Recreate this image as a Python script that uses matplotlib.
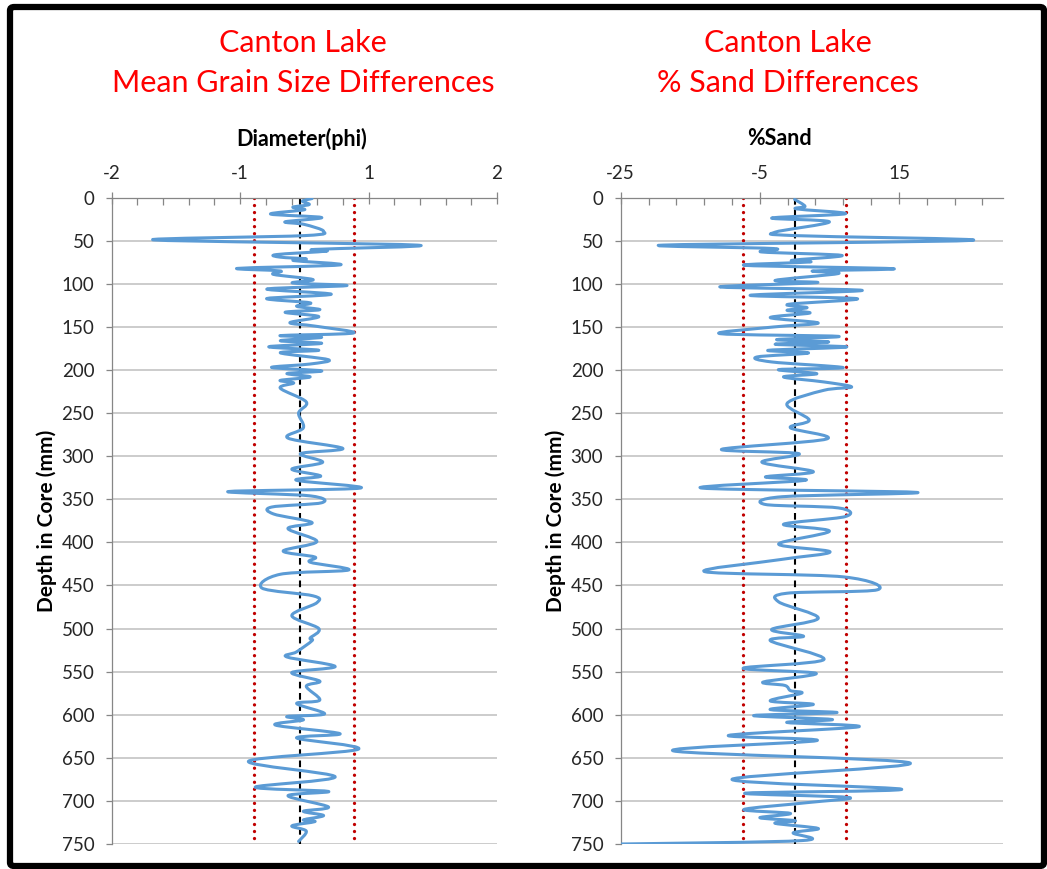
import numpy as np
import matplotlib
matplotlib.use("Agg")
import matplotlib.pyplot as plt
from matplotlib.path import Path
from matplotlib.patches import PathPatch, FancyBboxPatch
from matplotlib.ticker import FixedLocator, FixedFormatter

plt.rcParams['font.family'] = ['Lato', 'DejaVu Sans']

# ---------------- data ----------------
grain_depth = [1, 4, 8, 11, 14, 19, 23, 28, 31, 39, 44, 49, 55, 60, 62, 66, 69, 71, 73, 78,
               82, 85, 89, 95, 99, 102, 106, 112, 117, 122, 126, 130, 133, 138, 145, 149, 157, 160,
               162, 166, 169, 173, 177, 180, 188, 193, 197, 201, 204, 208, 212, 215, 221, 237,
               250, 267, 279, 291, 297, 307, 315, 323, 328, 337, 341, 346, 354, 359, 367, 377,
               384, 399, 410, 417, 423, 432, 437, 453, 462, 470, 485, 500, 511, 514, 527, 533,
               544, 551, 561, 567, 583, 587, 599, 602, 606, 612, 622, 627, 640, 654, 672, 684,
               689, 694, 707, 712, 717, 722, 724, 729, 735, 747]
grain_diff = [0.08, -0.02, 0.05, -0.12, 0.0, -0.35, 0.18, -0.2, 0.0, 0.2, 0.0, -1.56, 1.17, 0.11,
              0.23, -0.29, -0.25, 0.02, -0.11, 0.37, -0.69, -0.25, -0.32, 0.09, -0.12, 0.44,
              -0.39, 0.28, -0.39, 0.06, -0.08, 0.16, -0.2, 0.15, -0.15, 0.11, 0.51, -0.25, 0.18,
              -0.25, 0.18, -0.37, 0.15, -0.25, 0.25, 0.06, -0.34, 0.18, -0.18, 0.06, -0.25,
              -0.11, -0.25, 0.02, -0.06, -0.01, -0.17, 0.40, -0.04, 0.19, -0.13, 0.17, -0.08,
              0.58, -0.79, 0.06, 0.18, -0.34, -0.32, 0.08, -0.17, 0.13, -0.22, 0.11, 0.06, 0.46,
              -0.25, -0.44, 0.09, 0.13, -0.13, 0.15, 0.06, 0.08, -0.08, -0.18, 0.32, -0.13,
              0.16, 0.02, 0.16, -0.08, 0.21, -0.18, -0.01, -0.30, 0.37, -0.08, 0.56, -0.58,
              0.32, -0.51, 0.25, -0.17, 0.25, -0.01, 0.20, -0.01, 0.11, -0.13, 0.02, -0.06]
grain_limits = [-0.52, 0.52]
grain_center = -0.05

sand_depth = [2, 10, 13, 18.6, 23.6, 28, 40, 44, 49.5, 55, 59, 63, 67, 72.7, 74.6, 78.5, 82.4,
              85, 88, 96, 98.6, 103.6, 107.5, 113.3, 117.2, 123.7, 127.6, 130.7, 133.8, 139.2,
              145.4, 150, 157.8, 160.9, 164.7, 167.4, 170.1, 173.2, 177.1, 180.2, 184.8, 190.6,
              197.2, 199.5, 204.2, 208, 213.8, 219.6, 223.5, 239, 258, 267, 280, 292, 297, 307,
              318, 324, 328, 337, 342, 347, 356, 360, 370, 379, 387, 402, 411, 420, 434, 440,
              455, 459, 469, 488, 501, 509, 514, 536, 546, 552, 562, 566, 572, 575, 584, 588,
              594, 597.5, 601, 605.5, 609, 614, 624, 630, 642, 656, 675, 686.5, 691, 696, 702,
              710, 714.5, 719.5, 723, 726, 732, 737, 746, 750]
sand_diff = [0.0, 1.5, 0.3, 7.3, -3.3, 5.0, -2.8, 0.1, 25.5, -18.9, -3.0, -4.7, 6.8, -0.4, 2.2,
             -7.1, 14.2, 2.7, 6.3, -2.8, 3.2, -10.7, 9.7, -6.4, 9.0, -0.9, 1.8, -1.1, 2.2, -3.5,
             3.4, -3.0, -10.7, 6.3, -2.6, 4.9, -2.8, 7.5, -3.8, 2.0, -5.4, -3.3, 7.0, -2.3, 3.2,
             -1.6, 4.2, 8.2, 4.2, -1.1, 2.1, -0.6, 4.6, -10.5, 0.6, -4.7, 2.7, -4.2, 1.5, -13.3,
             17.6, -1.8, -4.2, 6.3, 7.3, -1.6, 5.0, -2.3, 5.1, -2.1, -12.9, 7.0, 11.9, -1.1,
             -2.3, 3.4, -3.3, 1.3, -3.5, 4.2, -7.4, 3.1, -4.5, -1.4, -0.6, 1.0, -3.5, 2.7, -3.5,
             6.1, -5.9, 5.4, -1.1, 9.2, -9.5, 3.2, -17.4, 16.6, -9.0, 15.4, -7.1, 7.8, 1.8, -7.3,
             -0.6, -5.0, 0.1, -2.8, 3.4, -0.2, 1.1, -25.0]
sand_limits = [-7.35, 7.35]
sand_center = 0.0

depth_ticks = list(range(0, 751, 50))
grain_major = [-2, -2 / 3, 2 / 3, 2]
grain_major_labels = ['-2', '-1', '1', '2']
sand_major = [-25, -5, 15]
sand_major_labels = ['-25', '-5', '15']

# ---------------- figure ----------------
W, H = 1047, 869
fig = plt.figure(figsize=(W / 100, H / 100), dpi=100)

BLUE = '#5B9BD5'
GRID = '#BFBFBF'
AXC = '#868686'
TXT = '#262626'


def smooth_path(x, y):
    pts = np.column_stack([x, y]).astype(float)
    n = len(pts)
    verts = [pts[0]]
    codes = [Path.MOVETO]
    for i in range(n - 1):
        p0 = pts[i - 1] if i > 0 else pts[i]
        p1 = pts[i]
        p2 = pts[i + 1]
        p3 = pts[i + 2] if i + 2 < n else pts[i + 1]
        c1 = p1 + (p2 - p0) / 6.0
        c2 = p2 - (p3 - p1) / 6.0
        verts += [c1, c2, p2]
        codes += [Path.CURVE4] * 3
    return Path(verts, codes)


def make_panel(rect, values, depths, xlim, major, major_labels, minor, limits, center,
               xlabel, xlabel_x):
    ax = fig.add_axes(rect)
    ax.set_xlim(*xlim)
    ax.set_ylim(750, 0)
    ax.xaxis.tick_top()
    ax.xaxis.set_major_locator(FixedLocator(major))
    ax.xaxis.set_major_formatter(FixedFormatter(major_labels))
    ax.xaxis.set_minor_locator(FixedLocator(minor))
    ax.set_yticks(depth_ticks)
    ax.yaxis.grid(True, color=GRID, lw=1.1)
    ax.set_axisbelow(True)
    for s in ['bottom', 'right']:
        ax.spines[s].set_visible(False)
    for s in ['top', 'left']:
        ax.spines[s].set_color(AXC)
        ax.spines[s].set_linewidth(0.9)
    ax.tick_params(axis='x', which='major', direction='inout', length=9, width=0.9,
                   color=AXC, labelsize=13.5, labelcolor=TXT, pad=7)
    ax.tick_params(axis='x', which='minor', direction='in', length=5, width=0.9, color=AXC)
    ax.tick_params(axis='y', which='major', direction='out', length=4.5, width=0.9,
                   color=AXC, labelsize=13.5, labelcolor=TXT, pad=8)
    ax.set_ylabel('Depth in Core (mm)', fontsize=15, fontweight='bold', color='black',
                  labelpad=3)
    ax.text(xlabel_x, 1.0 + 59 / 646.3, xlabel, transform=ax.transAxes,
            ha='center', va='center', fontsize=15.5, fontweight='bold', color='black')
    # reference lines
    for lv in limits:
        ax.plot([lv, lv], [0, 750], color='#C00000', lw=2.4, ls=(0, (0.01, 2.1)),
                dash_capstyle='round', zorder=2)
    ax.plot([center, center], [0, 750], color='black', lw=1.5, ls=(0, (3.2, 2.2)), zorder=2)
    # data line (smoothed like Excel)
    patch = PathPatch(smooth_path(values, depths), fill=False, ec=BLUE, lw=2.2,
                      joinstyle='round', capstyle='round', zorder=3)
    ax.add_patch(patch)
    ax.plot(values, depths, color=BLUE, lw=0, alpha=0)
    return ax


def fx(px):
    return px / W


def fy(py):
    return 1 - py / H


top_px, bot_px = 197.7, 844.0
grain_minor = list(np.arange(-2, 2.0001, 4 / 15))
sand_minor = list(np.arange(-25, 30.001, 4))

axL = make_panel([fx(111.7), fy(bot_px), fx(497) - fx(111.7), fy(top_px) - fy(bot_px)],
                 grain_diff, grain_depth, (-2, 2), grain_major, grain_major_labels,
                 grain_minor, grain_limits, grain_center, 'Diameter(phi)',
                 (302 - 111.7) / (497 - 111.7))
axR = make_panel([fx(620.7), fy(bot_px), fx(1003.3) - fx(620.7), fy(top_px) - fy(bot_px)],
                 sand_diff, sand_depth, (-25, 30), sand_major, sand_major_labels,
                 sand_minor, sand_limits, sand_center, '%Sand',
                 (779 - 620.7) / (1003.3 - 620.7))

# titles
for cx, t2 in [(303, 'Mean Grain Size Differences'), (788, '% Sand Differences')]:
    fig.text(fx(cx), fy(43), 'Canton Lake', ha='center', va='center', fontsize=22,
             color='#FF0000')
    fig.text(fx(cx), fy(83), t2, ha='center', va='center', fontsize=22, color='#FF0000')

# outer black frame
frame = FancyBboxPatch((fx(10), fy(866)), fx(1044) - fx(10), fy(7) - fy(866),
                       boxstyle='round,pad=0,rounding_size=0.004', transform=fig.transFigure,
                       fill=False, ec='black', lw=4.5, clip_on=False)
fig.add_artist(frame)

fig.savefig('out.png', dpi=100)
